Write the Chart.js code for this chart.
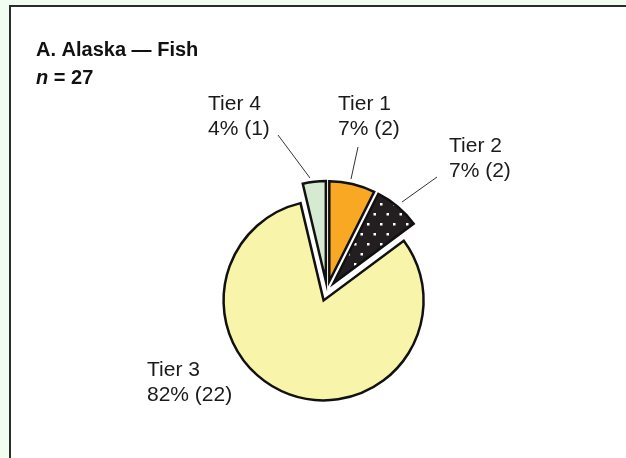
<!DOCTYPE html>
<html><head><meta charset="utf-8">
<script src="https://cdn.jsdelivr.net/npm/chart.js@4/dist/chart.umd.min.js"></script>
<style>
html,body{margin:0;padding:0;width:626px;height:458px;overflow:hidden;background:#F0FDF0;}
#panel{position:absolute;left:9px;top:5px;width:700px;height:600px;background:#fff;border:2px solid #2b2b2b;}
#wrap{position:absolute;left:0;top:0;width:626px;height:458px;}
canvas{display:block;}
</style></head><body>
<div id="panel"></div>
<div id="wrap"><canvas id="c" width="626" height="458"></canvas></div>
<script>
// ---- data ----
const categories = ['Tier 1', 'Tier 2', 'Tier 3', 'Tier 4'];
const counts = [2, 2, 22, 1];
const percents = [7, 7, 82, 4];
const titleLine = 'A. Alaska \u2014 Fish';
const sampleSize = 27;

// ---- styles ----
const FONT = '"Liberation Sans", Arial, sans-serif';
const sliceColors = ['#F8A823', null, '#F8F4AA', '#D5EAD0'];
// label layout relative to pie centre: text left x, first baseline y; leader line from/to
const labelLayout = [
  {dx: 11, dy: -181, line: [[31, -144], [24, -112]]},
  {dx: 122, dy: -139, line: [[110, -114], [75, -89]]},
  {dx: -180, dy: 85, line: null},
  {dx: -119, dy: -181, line: [[-49, -156], [-17, -113]]}
];

const canvas = document.getElementById('c');
const ctx = canvas.getContext('2d');

function dotPattern() {
  const t = document.createElement('canvas');
  t.width = 13; t.height = 20;
  const g = t.getContext('2d');
  g.fillStyle = '#231F20'; g.fillRect(0, 0, 13, 20);
  g.fillStyle = '#ffffff';
  g.fillRect(3, 3, 2.5, 2.5); g.fillRect(9.5, 13, 2.5, 2.5);
  return ctx.createPattern(t, 'repeat');
}
const colors = sliceColors.map(c => c || dotPattern());

const explodePlugin = {
  id: 'explode',
  afterDatasetsUpdate(chart, args, opts) {
    const meta = chart.getDatasetMeta(0);
    meta.data.forEach(arc => {
      const mid = (arc.startAngle + arc.endAngle) / 2;
      arc.x += Math.cos(mid) * opts.distance;
      arc.y += Math.sin(mid) * opts.distance;
    });
  }
};

const textPlugin = {
  id: 'texts',
  afterDraw(chart) {
    const c = chart.ctx;
    const area = chart.chartArea;
    const cx = (area.left + area.right) / 2, cy = (area.top + area.bottom) / 2;
    c.save();
    c.fillStyle = '#111';
    c.textBaseline = 'alphabetic';
    c.textAlign = 'left';
    c.font = 'bold 20px ' + FONT;
    c.fillText(titleLine, 36, 56);
    c.font = 'italic bold 20px ' + FONT;
    c.fillText('n', 36, 84);
    const w = c.measureText('n').width;
    c.font = 'bold 20px ' + FONT;
    c.fillText(' = ' + sampleSize, 36 + w, 84);

    c.font = '21px ' + FONT;
    c.fillStyle = '#1a1a1a';
    categories.forEach((cat, i) => {
      const L = labelLayout[i];
      c.fillText(cat, cx + L.dx, cy + L.dy);
      c.fillText(percents[i] + '% (' + counts[i] + ')', cx + L.dx, cy + L.dy + 25);
      if (L.line) {
        c.beginPath();
        c.strokeStyle = '#333';
        c.lineWidth = 1;
        c.moveTo(cx + L.line[0][0], cy + L.line[0][1]);
        c.lineTo(cx + L.line[1][0], cy + L.line[1][1]);
        c.stroke();
      }
    });
    c.restore();
  }
};

new Chart(canvas, {
  type: 'pie',
  data: {
    labels: categories,
    datasets: [{
      data: counts,
      backgroundColor: colors,
      borderColor: '#111',
      borderWidth: 2.5,
      borderJoinStyle: 'miter'
    }]
  },
  options: {
    responsive: false,
    animation: false,
    events: [],
    radius: 100,
    layout: {padding: {left: 28, right: 0, top: 124, bottom: 0}},
    plugins: {
      legend: {display: false},
      tooltip: {enabled: false},
      title: {display: false},
      explode: {distance: 10}
    }
  },
  plugins: [explodePlugin, textPlugin]
});
</script>
</body></html>
